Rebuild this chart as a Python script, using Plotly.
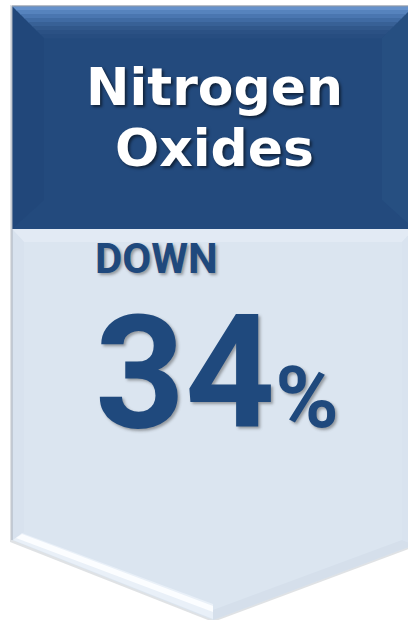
import plotly.graph_objects as go

# ---- content ----
title_lines = ["Nitrogen", "Oxides"]
direction = "DOWN"
percent_value = 34
percent_sign = "%"

W, H = 408, 620
HEADER_C = "#234a7d"
BODY_C = "#dbe5f0"
TEXT_C = "#1f497d"

fig = go.Figure()

def poly(pts, fill, line_color=None, line_w=0, layer="below"):
    path = "M " + " L ".join(f"{x},{y}" for x, y in pts) + " Z"
    fig.add_shape(type="path", path=path, xref="x", yref="y",
                  fillcolor=fill, layer=layer,
                  line=dict(color=line_color or fill, width=line_w))

# soft drop shadow of the banner
poly([(10, 5), (414, 5), (414, 547), (213, 622), (10, 542)], "rgba(150,158,170,0.30)")
# body
poly([(12, 229), (414, 229), (414, 545), (213, 620), (12, 540)], BODY_C)
# body top highlight
poly([(12, 229), (414, 229), (402, 242), (24, 242)], "#e2eaf4")
# body left bevel
poly([(12, 229), (24, 242), (24, 532), (12, 540)], "#d8e2ee")
# body right bevel
poly([(414, 229), (402, 242), (402, 540), (414, 545)], "#d9e3ef")
# bottom-left highlight band
poly([(13, 540), (22, 533), (213, 604), (213, 619)], "#e9f0f8")
poly([(16, 538), (22, 534), (213, 606), (213, 612)], "#fbfdff")
# bottom right slight shade
poly([(414, 545), (213, 620), (213, 610), (402, 540)], "#d5dfeb")

# header
poly([(12, 6), (414, 6), (414, 229), (12, 229)], HEADER_C)
# left bevel
poly([(12, 6), (44, 38), (44, 200), (12, 229)], "#21477a")
# right bevel
poly([(414, 6), (382, 38), (382, 200), (414, 229)], "#264f81")
# header top bevel (bands to fake gradient)
top_cols = ["#6591cb", "#5683bd", "#4a76b0", "#406ba3", "#386196", "#31588b", "#2b5184", "#274d80"]
n = len(top_cols)
for i, c in enumerate(top_cols):
    y0 = 6 + i * 32 / n
    y1 = 6 + (i + 1) * 32 / n + 0.5
    x0l = 12 + (y0 - 6)
    x1l = 12 + (y1 - 6)
    x0r = 414 - (y0 - 6)
    x1r = 414 - (y1 - 6)
    poly([(x0l, y0), (x0r, y0), (x1r, y1), (x1l, y1)], c)
# frame lines
fig.add_shape(type="line", x0=12, x1=414, y0=6, y1=6, line=dict(color="#8e99a8", width=1))
fig.add_shape(type="line", x0=12, x1=12, y0=6, y1=540, line=dict(color="#a9b1bc", width=1))

hdr_font = dict(family="DejaVu Sans", size=52, color="white", weight="bold",
                shadow="2px 2px 3px rgba(0,0,0,0.55)")
for i, t in enumerate(title_lines):
    fig.add_annotation(x=214, y=87 + i * 61, text=t, showarrow=False,
                       xanchor="center", yanchor="middle", font=hdr_font)

body_shadow = "2px 2px 3px rgba(60,60,60,0.45)"
fig.add_annotation(x=93, y=258, text=direction, showarrow=False,
                   xanchor="left", yanchor="middle",
                   font=dict(family="Roboto", size=42, color=TEXT_C, weight="bold",
                             shadow=body_shadow))
big_text = f"{percent_value}<span style='font-size:86px'>{percent_sign}</span>"
fig.add_annotation(x=93, y=373, text=big_text, showarrow=False,
                   xanchor="left", yanchor="middle",
                   font=dict(family="Roboto", size=157, color=TEXT_C, weight="bold",
                             shadow=body_shadow))

fig.update_xaxes(range=[0, W], visible=False, fixedrange=True)
fig.update_yaxes(range=[H, 0], visible=False, fixedrange=True)
fig.update_layout(width=W, height=H, margin=dict(l=0, r=0, t=0, b=0),
                  paper_bgcolor="white", plot_bgcolor="white", showlegend=False)

fig.write_html("out.html", config={"displayModeBar": False})
